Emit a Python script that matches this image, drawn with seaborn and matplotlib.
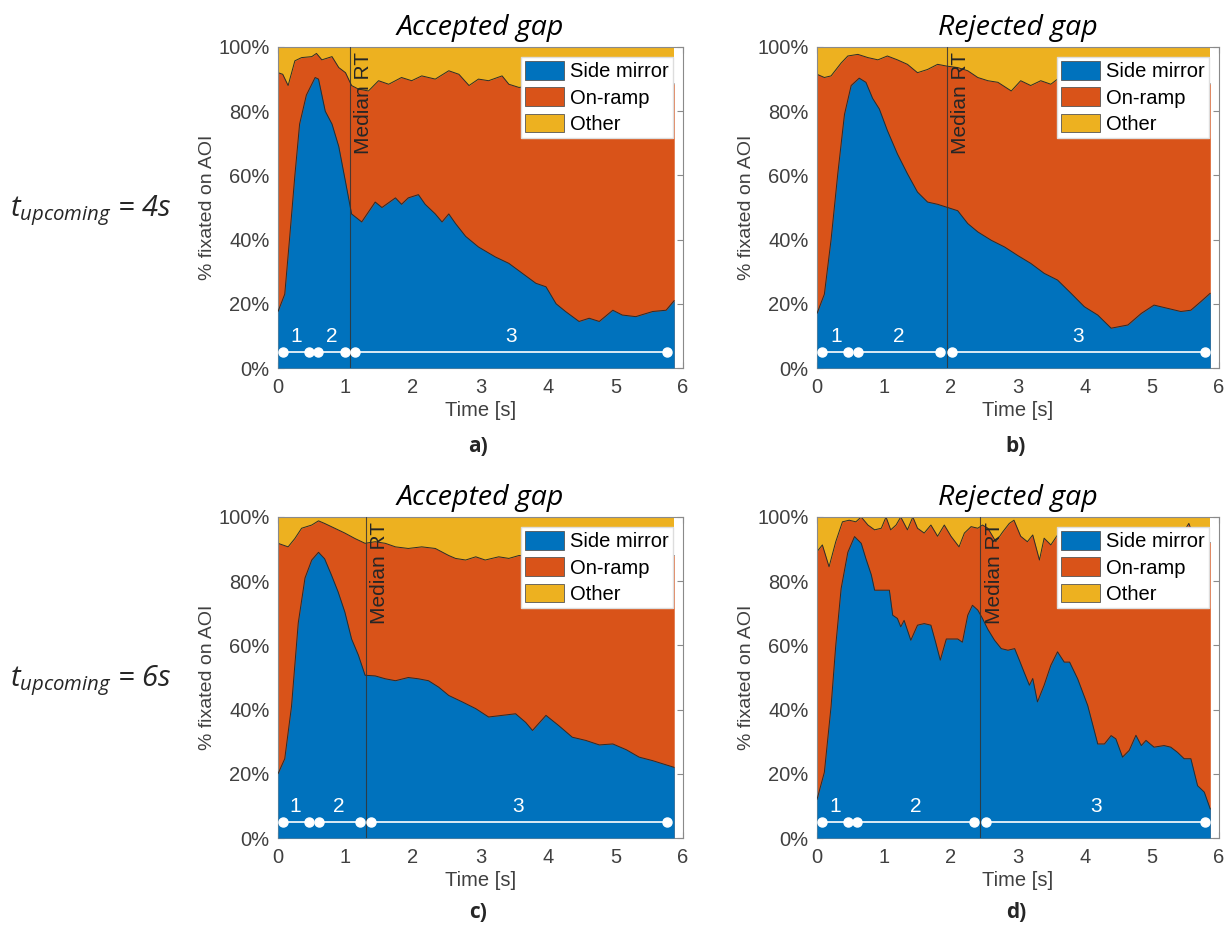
import numpy as np
import matplotlib
matplotlib.use("Agg")
import matplotlib.pyplot as plt
import seaborn as sns

# ---------------- data ----------------
# Panel a: t_upcoming = 4s, accepted gap
a_blue_t = [0.0, 0.1, 0.17, 0.25, 0.32, 0.42, 0.55, 0.6, 0.7, 0.8, 0.9, 1.0, 1.09, 1.24, 1.44, 1.54,
            1.74, 1.83, 1.93, 2.08, 2.18, 2.33, 2.43, 2.53, 2.63, 2.78, 2.97, 3.22, 3.42, 3.62, 3.82,
            3.97, 4.12, 4.26, 4.46, 4.61, 4.76, 4.96, 5.1, 5.3, 5.55, 5.75, 5.87]
a_blue_v = [17.6, 23, 40, 60, 76, 85, 90.5, 90, 80, 76, 69, 58, 48, 45.5, 51.7, 50,
            53, 51, 53, 54, 51, 48, 45.5, 48, 45, 41, 37.7, 34.6, 32.6, 29.5, 26.4,
            25.3, 20, 17.6, 14.5, 15.5, 14.5, 18, 16.5, 16, 17.6, 18, 21]
a_ramp_t = [0.0, 0.07, 0.15, 0.25, 0.35, 0.5, 0.57, 0.65, 0.8, 0.9, 1.0, 1.09, 1.19, 1.34, 1.49,
            1.64, 1.83, 1.98, 2.13, 2.33, 2.53, 2.68, 2.83, 2.97, 3.12, 3.32, 3.42, 3.57,
            3.8, 4.1, 4.5, 4.9, 5.3, 5.6, 5.87]
a_ramp_v = [92, 91.5, 88, 95.7, 96.7, 97, 98, 96, 97, 93.6, 92, 88, 86.9, 86.3, 89.5,
            88.4, 90.5, 89.5, 91, 90, 92.6, 91.5, 88, 90, 89.5, 91, 88.4, 87.4,
            88, 89, 88, 89, 88, 89, 88.5]
a_median = 1.07
a_marks = [0.08, 0.46, 0.59, 0.99, 1.14, 5.76]
a_labels_x = [0.27, 0.79, 3.45]

# Panel b: t_upcoming = 4s, rejected gap
b_blue_t = [0.0, 0.11, 0.21, 0.31, 0.41, 0.51, 0.63, 0.73, 0.83, 0.93, 1.05, 1.2, 1.35, 1.5,
            1.65, 1.8, 1.95, 2.1, 2.25, 2.4, 2.6, 2.8, 3.0, 3.19, 3.39, 3.59, 3.79, 3.99,
            4.19, 4.39, 4.64, 4.84, 5.03, 5.23, 5.43, 5.58, 5.73, 5.87]
b_blue_v = [17, 23, 40, 60.5, 79, 88, 90.3, 89, 84, 80.7, 74, 66.7, 60.5, 54.8,
            51.7, 51, 50, 49, 45, 42.4, 39.8, 37.7, 35, 32.6, 29.5, 27.4, 23.3, 19.1,
            16.5, 12.4, 13.4, 17, 19.6, 18.6, 17.6, 18, 20.7, 23.3]
b_ramp_t = [0.0, 0.11, 0.21, 0.36, 0.46, 0.61, 0.76, 0.91, 1.05, 1.2, 1.35, 1.5, 1.65, 1.8,
            1.95, 2.1, 2.25, 2.4, 2.55, 2.7, 2.9, 3.04, 3.19, 3.34, 3.49, 3.59,
            3.9, 4.3, 4.7, 5.1, 5.5, 5.87]
b_ramp_v = [91.5, 90.5, 91, 95, 97.2, 97.7, 96.7, 96, 97.2, 96, 94.6, 92, 93, 94.6,
            94, 93.6, 92.6, 90.5, 89.5, 89, 86.3, 89.5, 88, 89.5, 88.4, 90,
            89, 88, 89, 88, 89, 88.5]
b_median = 1.94
b_marks = [0.08, 0.46, 0.61, 1.83, 2.01, 5.79]
b_labels_x = [0.28, 1.22, 3.9]

# Panel c: t_upcoming = 6s, accepted gap
c_blue_t = [0.0, 0.1, 0.2, 0.3, 0.4, 0.5, 0.6, 0.69, 0.79, 0.89, 0.99, 1.09, 1.19, 1.29,
            1.44, 1.59, 1.74, 1.93, 2.08, 2.23, 2.38, 2.53, 2.73, 2.93, 3.12, 3.32, 3.52,
            3.67, 3.77, 3.97, 4.16, 4.36, 4.56, 4.76, 4.96, 5.16, 5.35, 5.55, 5.87]
c_blue_v = [20, 24.7, 41, 67, 81, 86.6, 89, 87, 82, 76.7, 70.4, 62, 57, 50.7,
            50.5, 49.6, 49, 50, 49.6, 49, 47, 44.4, 42.4, 40.3, 37.7, 38.2, 38.7,
            36, 33.5, 38.2, 35, 31.4, 30.4, 29, 29.3, 27.5, 25.2, 24.1, 22]
c_ramp_t = [0.0, 0.15, 0.25, 0.35, 0.5, 0.6, 0.69, 0.84, 0.99, 1.14, 1.29, 1.44, 1.59,
            1.74, 1.93, 2.13, 2.33, 2.53, 2.63, 2.78, 2.93, 3.07, 3.27, 3.42, 3.57,
            3.9, 4.3, 4.7, 5.1, 5.5, 5.87]
c_ramp_v = [91.8, 90.7, 93.3, 96.5, 97.5, 98.8, 98, 96.5, 95, 93.3, 91.8, 92.3, 91.8,
            90.7, 90.2, 90.7, 90.2, 88, 87.1, 86.6, 87.6, 86.6, 87.6, 87.1, 88,
            87.5, 88.5, 87.5, 88.5, 87.5, 88]
c_median = 1.3
c_marks = [0.08, 0.46, 0.61, 1.22, 1.38, 5.76]
c_labels_x = [0.26, 0.9, 3.56]

# Panel d: t_upcoming = 6s, rejected gap
d_blue_t = [0.0, 0.11, 0.21, 0.28, 0.36, 0.46, 0.56, 0.66, 0.73, 0.81, 0.86, 1.08, 1.13, 1.2,
            1.25, 1.3, 1.4, 1.5, 1.6, 1.7, 1.77, 1.84, 1.93, 2.1, 2.17, 2.25, 2.32, 2.4,
            2.47, 2.55, 2.65, 2.75, 2.85, 2.95, 3.02, 3.09, 3.17, 3.22, 3.29, 3.39, 3.49,
            3.59, 3.69, 3.77, 3.89, 4.04, 4.19, 4.29, 4.39, 4.46, 4.56, 4.66, 4.76, 4.84,
            4.91, 5.03, 5.18, 5.28, 5.38, 5.48, 5.58, 5.68, 5.78, 5.87]
d_blue_v = [12, 20.5, 41, 60, 77.7, 89, 93.9, 91.8, 87, 82, 77.2, 77.2, 69.4, 68.4,
            65.8, 67.8, 61.6, 66.3, 66.8, 66.3, 61, 55.4, 62, 62, 61, 69.4, 72.5, 71,
            68.4, 65, 61.6, 59, 58.5, 59, 55.4, 51.7, 47.6, 49.7, 42.4, 47.6, 53.8,
            58, 54.8, 54.8, 49.6, 41.3, 29.3, 29.3, 31.9, 30.9, 25.2, 27.3, 32, 28.8,
            30.4, 28.3, 28.8, 28.3, 26.7, 24.7, 24.7, 16.3, 14.3, 9]
d_ramp_t = [0.0, 0.08, 0.18, 0.28, 0.38, 0.48, 0.58, 0.66, 0.76, 0.86, 0.96, 1.03, 1.1,
            1.18, 1.25, 1.35, 1.43, 1.5, 1.6, 1.7, 1.8, 1.9, 2.0, 2.12, 2.2, 2.3, 2.4,
            2.47, 2.55, 2.67, 2.77, 2.87, 2.94, 3.04, 3.14, 3.22, 3.32, 3.39, 3.49, 3.59,
            3.9, 4.3, 4.7, 5.1, 5.4, 5.55, 5.62, 5.7, 5.87]
d_ramp_v = [89.2, 91.3, 84.5, 92.3, 98.5, 99, 98.5, 100, 97.5, 96, 96.5, 100, 96,
            97.5, 100, 96, 100, 96.5, 95, 97.5, 94, 97.5, 94, 90.7, 95, 97, 96.5,
            97.5, 96.5, 92.3, 95.3, 98, 99, 94, 92.3, 94.4, 86.6, 93.4, 91.3, 94.4,
            93, 94, 93, 94, 93, 98, 94, 93, 92]
d_median = 2.44
d_marks = [0.08, 0.46, 0.6, 2.35, 2.52, 5.79]
d_labels_x = [0.27, 1.48, 4.16]

series_names = ["Side mirror", "On-ramp", "Other"]
titles = ["Accepted gap", "Rejected gap", "Accepted gap", "Rejected gap"]
panel_tags = ["a)", "b)", "c)", "d)"]
row_labels = ["4s", "6s"]
x_ticks = [0, 1, 2, 3, 4, 5, 6]
y_ticks = [0, 20, 40, 60, 80, 100]
y_ticklabels = ["0%", "20%", "40%", "60%", "80%", "100%"]
segment_names = ["1", "2", "3"]
data_end = 5.87

# ---------------- styling ----------------
sns.set_theme(style="white")
plt.rcParams["font.family"] = ["Liberation Sans", "DejaVu Sans"]
plt.rcParams["mathtext.fontset"] = "custom"
plt.rcParams["mathtext.it"] = "Open Sans:italic"
plt.rcParams["mathtext.rm"] = "Open Sans:italic"

C_BLUE = "#0072BD"
C_ORANGE = "#D95319"
C_YELLOW = "#EDB120"
EDGE = "#2b2b2b"
GREY_TXT = "#404040"
SPINE = "#8a8a8a"

fig = plt.figure(figsize=(12.31, 9.33), dpi=100)
W, H = 1231, 933

def ax_rect(left, right, top, bottom):
    return [left / W, 1 - bottom / H, (right - left) / W, (bottom - top) / H]

rects = [ax_rect(278, 683, 47, 368), ax_rect(817, 1219, 47, 368),
         ax_rect(278, 683, 517, 838), ax_rect(817, 1219, 517, 838)]

panels = [
    (a_blue_t, a_blue_v, a_ramp_t, a_ramp_v, a_median, a_marks, a_labels_x),
    (b_blue_t, b_blue_v, b_ramp_t, b_ramp_v, b_median, b_marks, b_labels_x),
    (c_blue_t, c_blue_v, c_ramp_t, c_ramp_v, c_median, c_marks, c_labels_x),
    (d_blue_t, d_blue_v, d_ramp_t, d_ramp_v, d_median, d_marks, d_labels_x),
]

for i, (bt, bv, rt, rv, med, marks, lx) in enumerate(panels):
    ax = fig.add_axes(rects[i])
    # layered areas: Other (full), On-ramp (cumulative top), Side mirror
    h3 = ax.fill_between([0, data_end], 0, 100, color=C_YELLOW, linewidth=0, zorder=1)
    h2 = ax.fill_between(rt, 0, rv, color=C_ORANGE, linewidth=0, zorder=2)
    h1 = ax.fill_between(bt, 0, bv, color=C_BLUE, linewidth=0, zorder=3)
    sns.lineplot(x=rt, y=rv, ax=ax, color=EDGE, linewidth=0.7, zorder=2.5, legend=False)
    sns.lineplot(x=bt, y=bv, ax=ax, color=EDGE, linewidth=0.7, zorder=3.5, legend=False)

    # median RT line + label
    ax.axvline(med, color="#333333", linewidth=0.8, alpha=0.85, zorder=4)
    ax.annotate("Median RT", xy=(med, 98.5), xytext=(3, 0), textcoords="offset points",
                rotation=90, ha="left", va="top", fontsize=15, color="#262626", zorder=6)

    # phase segments
    for k in range(3):
        x0, x1 = marks[2 * k], marks[2 * k + 1]
        ax.plot([x0, x1], [5, 5], color="white", linewidth=1.2, marker="o",
                markersize=6.5, markerfacecolor="white", markeredgecolor="white", zorder=7)
        ax.text(lx[k], 6.8, segment_names[k], color="white", fontsize=15,
                ha="center", va="bottom", zorder=7)

    ax.set_xlim(0, 6)
    ax.set_ylim(0, 100)
    ax.set_xticks(x_ticks)
    ax.set_yticks(y_ticks)
    ax.set_yticklabels(y_ticklabels)
    ax.tick_params(direction="in", length=4, width=0.8, colors=SPINE, labelcolor=GREY_TXT,
                   labelsize=14.5, top=True, right=True, bottom=True, left=True)
    ax.tick_params(axis="x", pad=7)
    ax.tick_params(axis="y", pad=6)
    for s in ax.spines.values():
        s.set_color(SPINE)
        s.set_linewidth(0.8)
        s.set_visible(True)
    ax.set_xlabel("Time [s]", fontsize=14.5, color=GREY_TXT, labelpad=3)
    ax.set_ylabel("% fixated on AOI", fontsize=14, color=GREY_TXT, labelpad=2)
    ax.set_title(titles[i], fontsize=20.5, style="italic", family="Open Sans",
                 color="black", pad=9)

    leg = ax.legend([h1, h2, h3], series_names, loc="upper right", fontsize=14.5,
                    frameon=True, fancybox=False, framealpha=1, edgecolor="#dddddd",
                    handlelength=1.95, handleheight=1.05, labelspacing=0.3,
                    handletextpad=0.3, borderpad=0.2, borderaxespad=0.5)
    leg.set_zorder(8)
    for p in leg.get_patches():
        p.set_edgecolor("#555555")
        p.set_linewidth(0.6)
    for t in leg.get_texts():
        t.set_color("black")

# panel tags
tag_pos = [(478, 447), (1016, 447), (478, 913), (1016, 913)]
for tag, (px, py) in zip(panel_tags, tag_pos):
    fig.text(px / W, 1 - py / H, tag, fontsize=15, fontweight="bold", family="Open Sans",
             ha="center", va="center")

# row labels
for lab, py in zip(row_labels, [211, 681]):
    fig.text(10 / W, 1 - py / H, r"$t_{upcoming}$" + " = " + lab, fontsize=21,
             style="italic", family="Open Sans", ha="left", va="center")

fig.savefig("out.png", dpi=100)
